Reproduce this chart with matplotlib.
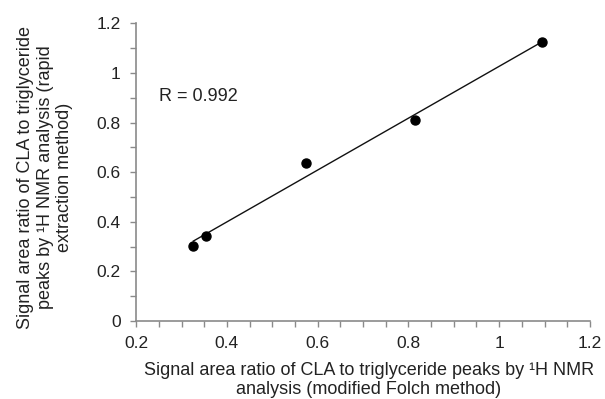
import numpy as np
import matplotlib
matplotlib.use("Agg")
import matplotlib.pyplot as plt
from matplotlib.ticker import MultipleLocator

plt.rcParams['font.family'] = ['Liberation Sans', 'DejaVu Sans']

# data
folch = [0.326, 0.354, 0.575, 0.815, 1.095]
rapid = [0.304, 0.341, 0.637, 0.809, 1.124]
r_text = "R = 0.992"
x_label = "Signal area ratio of CLA to triglyceride peaks by \u00b9H NMR\nanalysis (modified Folch method)"
y_label = "Signal area ratio of CLA to triglyceride\npeaks by \u00b9H NMR analysis (rapid\nextraction method)"

fig = plt.figure(figsize=(6.05, 3.99), dpi=100)
ax = fig.add_axes([0.225, 0.1955, 0.75, 0.746])

# linear fit across the measured range
x = np.array(folch)
y = np.array(rapid)
k, b = np.polyfit(x, y, 1)
xs = np.array([x.min(), x.max()])
ax.plot(xs, k * xs + b, color='#111111', lw=1.0)
ax.plot(x, y, 'o', color='black', ms=6.5, zorder=3)

ax.text(0.251, 0.907, r_text, fontsize=13, va='center', ha='left', color='#222222')

ax.set_xlim(0.2, 1.2)
ax.set_ylim(0, 1.2)
ax.xaxis.set_major_locator(MultipleLocator(0.2))
ax.xaxis.set_minor_locator(MultipleLocator(0.05))
ax.yaxis.set_major_locator(MultipleLocator(0.2))
ax.yaxis.set_minor_locator(MultipleLocator(0.1))
fmt = lambda v, p: ('%g' % round(v, 2))
ax.xaxis.set_major_formatter(plt.FuncFormatter(fmt))
ax.yaxis.set_major_formatter(plt.FuncFormatter(fmt))

for s in ['top', 'right']:
    ax.spines[s].set_visible(False)
for s in ['left', 'bottom']:
    ax.spines[s].set_color('#8a8a8a')
    ax.spines[s].set_linewidth(1.2)

ax.tick_params(axis='x', which='both', direction='out', length=4, width=1.0, color='#8a8a8a',
               labelsize=12.5, labelcolor='#222222', pad=7)
ax.tick_params(axis='y', which='both', direction='out', length=4, width=1.0, color='#8a8a8a',
               labelsize=12.5, labelcolor='#222222', pad=7)

fig.text(0.61, 0.048, x_label, ha='center', va='center', fontsize=13,
         color='#222222', linespacing=1.2)
fig.text(0.075, 0.556, y_label, ha='center', va='center', fontsize=13,
         color='#222222', rotation=90, linespacing=1.2)

fig.savefig('out.png', dpi=100)
